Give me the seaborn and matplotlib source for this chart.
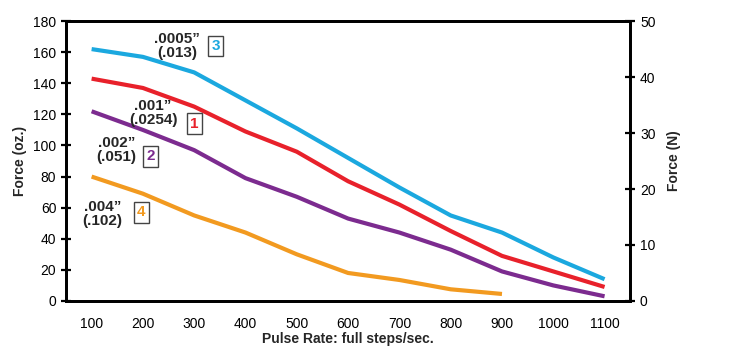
import numpy as np
import pandas as pd
import matplotlib
matplotlib.use('Agg')
import matplotlib.pyplot as plt
import seaborn as sns

sns.set_style('white')
plt.rcParams['font.family'] = ['Liberation Sans', 'DejaVu Sans']

pulse_rate = [100, 200, 300, 400, 500, 600, 700, 800, 900, 1000, 1100]
force_3 = [162, 157, 147, 129, 111, 92, 73, 55, 44, 28, 14]
force_1 = [143, 137, 125, 109, 96, 77, 62, 45, 29, 19, 9]
force_2 = [122, 110, 97, 79, 67, 53, 44, 33, 19, 10, 3]
force_4 = [80, 69, 55, 44, 30, 18, 13.5, 7.5, 4.5]

series_names = ['3', '1', '2', '4']
series_colors = ['#1ba8df', '#e8212b', '#7c2b8f', '#f29a20']
labels = ['.0005\u201d\n(.013)', '.001\u201d\n(.0254)', '.002\u201d\n(.051)', '.004\u201d\n(.102)']

rows = []
for name, vals in zip(series_names, [force_3, force_1, force_2, force_4]):
    for x, y in zip(pulse_rate, vals):
        rows.append({'rate': x, 'force': y, 'curve': name})
df = pd.DataFrame(rows)

fig = plt.figure(figsize=(7.29, 3.52), dpi=100)
ax = fig.add_axes([0.0905, 0.145, 0.774, 0.795])
sns.lineplot(data=df, x='rate', y='force', hue='curve', hue_order=series_names,
             palette=series_colors, linewidth=3, legend=False, ax=ax,
             solid_capstyle='butt')

ax.set_xlim(50, 1150)
ax.set_ylim(0, 180)
ax.set_xticks(pulse_rate)
ax.set_yticks(range(0, 181, 20))
ax.set_xlabel('Pulse Rate: full steps/sec.', fontsize=10, fontweight='bold', labelpad=1)
ax.set_ylabel('Force (oz.)', fontsize=10, fontweight='bold')
for s in ax.spines.values():
    s.set_color('black')
    s.set_linewidth(2)
ax.tick_params(axis='both', direction='inout', length=7, width=1.6, labelsize=10, colors='black')
ax.tick_params(axis='x', pad=8)

ax2 = ax.twinx()
ax2.set_ylim(0, 50)
ax2.set_yticks(range(0, 51, 10))
ax2.set_ylabel('Force (N)', fontsize=10, fontweight='bold', labelpad=8)
for s in ax2.spines.values():
    s.set_color('black')
    s.set_linewidth(2)
ax2.tick_params(axis='y', direction='inout', length=7, width=1.6, labelsize=10, colors='black')

# annotations: text and numbered box
text_pos = [(266, 164), (220, 121), (148, 97), (121, 56)]
box_pos = [(342, 164), (300, 114), (215, 93), (197, 57)]
for lab, name, col, tp, bp in zip(labels, series_names, series_colors, text_pos, box_pos):
    ax.text(tp[0], tp[1], lab, ha='center', va='center', fontsize=11,
            fontweight='bold', linespacing=0.95)
    ax.text(bp[0], bp[1], name, ha='center', va='center', fontsize=11,
            fontweight='bold', color=col,
            bbox=dict(boxstyle='square,pad=0.22', fc='white', ec='#444444', lw=1))

fig.savefig('out.png', dpi=100)
